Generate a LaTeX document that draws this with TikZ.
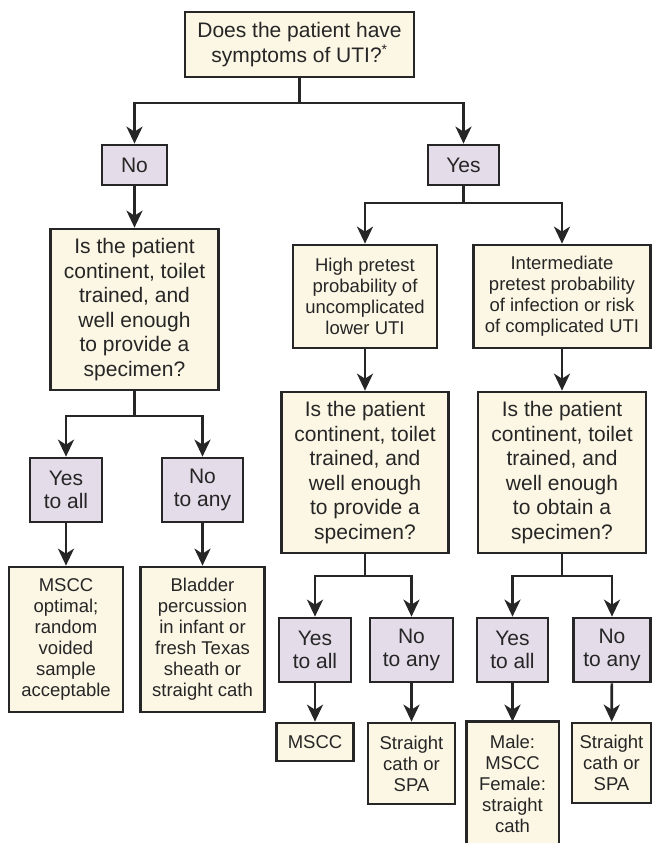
\documentclass[tikz,border=0pt]{standalone}
\usepackage{fontspec}
\setmainfont{Liberation Sans}
\usetikzlibrary{arrows.meta}
\definecolor{cream}{HTML}{FCF7E4}
\definecolor{lilac}{HTML}{E4DCE9}
\definecolor{ink}{HTML}{262626}
\tikzset{
  box/.style={draw=ink, line width=2.7pt, inner sep=0pt, align=center, text=ink},
  qbox/.style={box, fill=cream, font=\fontsize{21}{24.5}\selectfont},
  sbox/.style={box, fill=cream, font=\fontsize{18.5}{21}\selectfont},
  lbox/.style={box, fill=lilac, font=\fontsize{21}{23}\selectfont},
  conn/.style={draw=ink, line width=2.7pt},
  arr/.style={conn, -{Stealth[length=17pt,width=16pt,inset=5pt]}},
}
\begin{document}
\begin{tikzpicture}[x=1pt,y=-1pt]
\useasboundingbox (0,0) rectangle (652,843);
% top level
\node[qbox, minimum width=229, minimum height=65] (top) at (299.5,44.5) {Does the patient have\\symptoms of UTI?\textsuperscript{\fontsize{14}{14}\selectfont*}};
\node[lbox, minimum width=65, minimum height=40] (no) at (134.5,165) {No};
\node[lbox, minimum width=71, minimum height=40] (yes) at (463.5,165) {Yes};
% second level
\node[qbox, minimum width=168, minimum height=161] (qL) at (134.5,309.5) {Is the patient\\continent, toilet\\trained, and\\well enough\\to provide a\\specimen?};
\node[sbox, minimum width=144, minimum height=103] (hp) at (365,296.5) {High pretest\\probability of\\uncomplicated\\lower UTI};
\node[sbox, minimum width=177, minimum height=103] (ip) at (562,296.5) {Intermediate\\pretest probability\\of infection or risk\\of complicated UTI};
\node[qbox, minimum width=167, minimum height=161] (qM) at (365,472.5) {Is the patient\\continent, toilet\\trained, and\\well enough\\to provide a\\specimen?};
\node[qbox, minimum width=168, minimum height=161] (qR) at (562,472.5) {Is the patient\\continent, toilet\\trained, and\\well enough\\to obtain a\\specimen?};
% answer labels
\node[lbox, minimum width=72, minimum height=64] (yL) at (66,490) {Yes\\to all};
\node[lbox, minimum width=81, minimum height=64] (nL) at (202.5,490) {No\\to any};
\node[lbox, minimum width=72, minimum height=64] (yM) at (315,650) {Yes\\to all};
\node[lbox, minimum width=83, minimum height=64] (nM) at (411.5,650) {No\\to any};
\node[lbox, minimum width=71, minimum height=64] (yR) at (512.5,650) {Yes\\to all};
\node[lbox, minimum width=77, minimum height=64] (nR) at (612,650) {No\\to any};
% results
\node[sbox, minimum width=114, minimum height=145] (rL1) at (66,639.5) {MSCC\\optimal;\\random\\voided\\sample\\acceptable};
\node[sbox, minimum width=124, minimum height=145] (rL2) at (202.5,639.5) {Bladder\\percussion\\in infant or\\fresh Texas\\sheath or\\straight cath};
\node[sbox, minimum width=77, minimum height=38] (rM1) at (315,742) {MSCC};
\node[sbox, minimum width=87, minimum height=81] (rM2) at (411.5,763.5) {Straight\\cath or\\SPA};
\node[sbox, draw=none, minimum width=90, minimum height=122] (rR1) at (512.5,784) {Male:\\MSCC\\Female:\\straight\\cath};
\draw[conn] (rR1.south west) -- (rR1.north west) -- (rR1.north east) -- (rR1.south east);
\node[sbox, minimum width=79, minimum height=80] (rR2) at (611.5,763) {Straight\\cath or\\SPA};
% branch points
\coordinate (b1) at (299.5,103);
\coordinate (b2) at (463.5,203);
\coordinate (b3) at (134.5,416);
\coordinate (b4) at (365,576);
\coordinate (b5) at (562,576);
% connectors
\draw[conn] (top.south) -- (b1);
\draw[arr] (b1) -| (no.north);
\draw[arr] (b1) -| (yes.north);
\draw[arr] (no) -- (qL);
\draw[conn] (yes.south) -- (b2);
\draw[arr] (b2) -| (hp.north);
\draw[arr] (b2) -| (ip.north);
\draw[arr] (hp) -- (qM);
\draw[arr] (ip) -- (qR);
\draw[conn] (qL.south) -- (b3);
\draw[arr] (b3) -| (yL.north);
\draw[arr] (b3) -| (nL.north);
\draw[conn] (qM.south) -- (b4);
\draw[arr] (b4) -| (yM.north);
\draw[arr] (b4) -| (nM.north);
\draw[conn] (qR.south) -- (b5);
\draw[arr] (b5) -| (yR.north);
\draw[arr] (b5) -| (nR.north);
\draw[arr] (yL) -- (rL1);
\draw[arr] (nL) -- (rL2);
\draw[arr] (yM) -- (rM1);
\draw[arr] (nM) -- (rM2);
\draw[arr] (yR) -- (rR1);
\draw[arr] (nR) -- (rR2);
\end{tikzpicture}
\end{document}
